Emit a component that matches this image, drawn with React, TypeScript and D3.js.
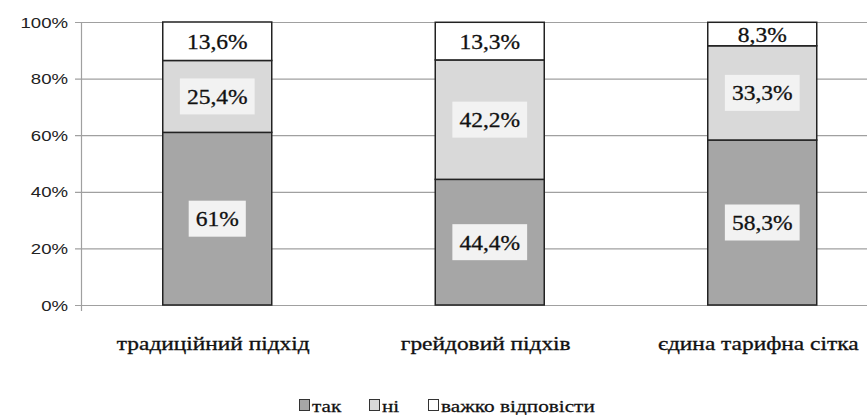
import * as d3 from 'd3';

const W = 867;
const H = 415;

const categories = ['традиційний підхід', 'грейдовий підхів', 'єдина тарифна сітка'];
const seriesKeys = ['так', 'ні', 'важко відповісти'];
const tak = [61, 44.4, 58.3];
const ni = [25.4, 42.2, 33.3];
const vazhko = [13.6, 13.3, 8.3];
const labelsTak = ['61%', '44,4%', '58,3%'];
const labelsNi = ['25,4%', '42,2%', '33,3%'];
const labelsVazhko = ['13,6%', '13,3%', '8,3%'];
const yTicks = [0, 20, 40, 60, 80, 100];

const colors = ['#a6a6a6', '#d9d9d9', '#ffffff'];
const serif = 'Liberation Serif';
const sans = 'Liberation Sans';

const x = d3.scaleBand<string>(categories, [81, 81 + 3 * 272.5]).paddingInner(0.6).paddingOuter(0.3);
const y = d3.scaleLinear([0, 100], [305, 22]);

const rows = categories.map((c, i) => ({ cat: c, 'так': tak[i], 'ні': ni[i], 'важко відповісти': vazhko[i] }));
const stacked = d3.stack<any>().keys(seriesKeys)(rows);
const labels = [labelsTak, labelsNi, labelsVazhko];

// Times-like advance widths (em) for the label boxes
const textW = (s: string, size: number) =>
  d3.sum(s.split(''), ch => (ch === '%' ? 0.833 : ch === ',' ? 0.25 : 0.5)) * size;

const LSX = 1.12;
const LFS = 21;

export default function App() {
  document.body.style.margin = '0';
  return (
    <svg width={W} height={H} style={{ display: 'block', background: '#fff' }}>
      {yTicks.map(t => (
        <g key={t}>
          <line x1={75} x2={W} y1={y(t) + 0.5} y2={y(t) + 0.5} stroke="#a0a0a0" strokeWidth={1.2} />
          <text transform={`translate(68,${y(t) + 5.5}) scale(1.2,1)`} textAnchor="end"
            style={{ fontFamily: sans, fontSize: '15.5px' }} fill="#222">{`${t}%`}</text>
        </g>
      ))}
      <line x1={81.5} x2={81.5} y1={y(100)} y2={y(0) + 6} stroke="#a0a0a0" strokeWidth={1.2} />

      {stacked.map((s, si) => s.map((d, i) => (
        <rect key={`b${si}-${i}`} x={x(categories[i])} width={x.bandwidth()}
          y={y(d[1])} height={y(d[0]) - y(d[1])}
          fill={colors[si]} stroke="#222" strokeWidth={1.5} />
      )))}

      {stacked.map((s, si) => s.map((d, i) => {
        const cx = x(categories[i])! + x.bandwidth() / 2;
        const cy = (y(d[0]) + y(d[1])) / 2;
        const tw = textW(labels[si][i], LFS) * LSX;
        return (
          <g key={`l${si}-${i}`}>
            {si < 2 && <rect x={cx - tw / 2 - 7} width={tw + 14} y={cy - 18} height={36} fill="#f2f2f2" />}
            <text transform={`translate(${cx},${cy + 7.5}) scale(${LSX},1)`} textAnchor="middle"
              style={{ fontFamily: serif, fontSize: `${LFS}px` }}
              fill="#111" stroke="#111" strokeWidth={0.3}>{labels[si][i]}</text>
          </g>
        );
      }))}

      {categories.map(c => (
        <text key={c} transform={`translate(${x(c)! + x.bandwidth() / 2 - 4},350) scale(1.3,1)`} textAnchor="middle"
          style={{ fontFamily: serif, fontSize: '18px' }} fill="#111" stroke="#111" strokeWidth={0.3}>{c}</text>
      ))}

      {seriesKeys.map((k, i) => {
        const lx = [299, 369, 428][i];
        return (
          <g key={k}>
            <rect x={lx + 0.5} y={399.5} width={10} height={11} fill={colors[i]} stroke="#333" strokeWidth={1} />
            <text transform={`translate(${lx + 13},412) scale(1.25,1)`} style={{ fontFamily: serif, fontSize: '17px' }}
              fill="#111" stroke="#111" strokeWidth={0.25}>{k}</text>
          </g>
        );
      })}
    </svg>
  );
}
